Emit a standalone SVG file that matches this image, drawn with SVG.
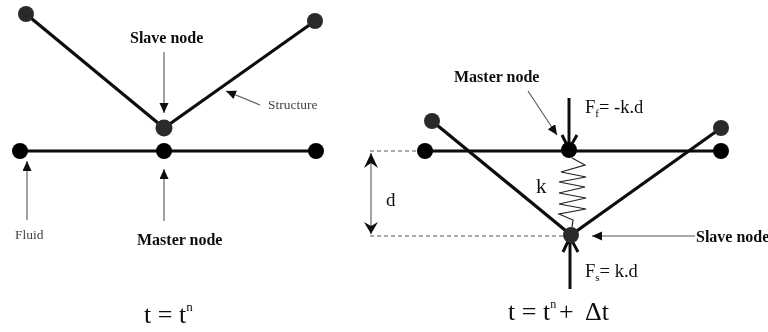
<svg xmlns="http://www.w3.org/2000/svg" width="768" height="332" viewBox="0 0 768 332">
<defs>
<filter id="soft" x="-5%" y="-5%" width="110%" height="110%"><feGaussianBlur stdDeviation="0.65"/></filter>
<marker id="head" markerUnits="userSpaceOnUse" markerWidth="12" markerHeight="12" refX="10" refY="4.5" orient="auto"><path d="M0 0L10 4.5L0 9Z" fill="#111"/></marker>
</defs>
<style>
.bar{stroke:#0c0c0c;stroke-width:3.2;fill:none}
.thin{stroke:#555;stroke-width:1.1;fill:none;marker-end:url(#head)}
.force{stroke:#111;stroke-width:3;fill:none}
.dash{stroke:#555;stroke-width:1.1;stroke-dasharray:4 3;fill:none}
.s{fill:#2b2b2b}.m{fill:#060606}
text{font-family:"Liberation Serif","Times New Roman",serif;fill:#111}
.b{font-weight:bold;font-size:16px}
.sm{font-size:13.5px;fill:#444}
.eq{font-size:26px}
.f{font-size:18.5px}
</style>
<rect width="768" height="332" fill="#fff"/>
<g filter="url(#soft)">
<g id="connectors">
<path class="bar" d="M26 14L164 128L315 21"/>
<path class="bar" d="M20 151H316"/>
<path class="thin" d="M164 52V113"/>
<path class="thin" d="M260 105L226 91"/>
<path class="thin" d="M27 220V161"/>
<path class="thin" d="M164 221V169"/>
<path class="bar" d="M432 121L571 235L721 128"/>
<path class="bar" d="M425 151H721"/>
<path class="thin" d="M528 91L557 135"/>
<path class="force" d="M569 98V150M562 135L569 149L577 135"/>
<path class="force" d="M570 289V236M563 252L570 237L578 252"/>
<path class="dash" d="M370 151H417"/>
<path class="dash" d="M370 236H563"/>
<path d="M371 153V234" stroke="#666" stroke-width="1.2" fill="none"/>
<path d="M371 153L364 168L371 163L378 168ZM371 234L364 222L371 226L378 222Z" fill="#111"/>
<path class="thin" d="M695 236H592"/>
<path d="M572 158L585 165L561 172L586 177L559 182L585 187L559 193L586 198L559 204L586 209L559 214L573 220L572 227" stroke="#222" stroke-width="1.2" fill="none"/>
</g>
<g id="left-top-a"><circle class="s" cx="26" cy="14" r="8"/></g>
<g id="left-top-b"><circle class="s" cx="315" cy="21" r="8"/></g>
<g id="left-slave"><circle class="s" cx="164" cy="128" r="8.5"/></g>
<g id="left-fluid-a"><circle class="m" cx="20" cy="151" r="8"/></g>
<g id="left-master"><circle class="m" cx="164" cy="151" r="8"/></g>
<g id="left-fluid-b"><circle class="m" cx="316" cy="151" r="8"/></g>
<g id="right-top-a"><circle class="s" cx="432" cy="121" r="8"/></g>
<g id="right-top-b"><circle class="s" cx="721" cy="128" r="8"/></g>
<g id="right-fluid-a"><circle class="m" cx="425" cy="151" r="8"/></g>
<g id="right-fluid-b"><circle class="m" cx="721" cy="151" r="8"/></g>
<g id="right-master"><circle class="m" cx="569" cy="150" r="8"/></g>
<g id="right-slave"><circle class="s" cx="571" cy="235" r="8"/></g>
<g id="labels">
<text class="b" x="130" y="43">Slave node</text>
<text class="sm" x="268" y="109">Structure</text>
<text class="sm" x="15" y="239">Fluid</text>
<text class="b" x="137" y="245">Master node</text>
<text class="eq" x="144" y="323">t = t<tspan font-size="13" dy="-12">n</tspan></text>
<text class="b" x="454" y="82">Master node</text>
<text class="f" x="585" y="113">F<tspan font-size="11" dy="4">f</tspan><tspan dy="-4">= -k.d</tspan></text>
<text x="536" y="193" font-size="21">k</text>
<text x="386" y="206" font-size="19">d</text>
<text class="b" x="696" y="242">Slave node</text>
<text class="f" x="585" y="277">F<tspan font-size="11" dy="4">s</tspan><tspan dy="-4">= k.d</tspan></text>
<text class="eq" x="508" y="320">t = t<tspan font-size="12" dy="-12">n</tspan></text>
<text class="eq" x="559" y="320">+</text>
<text class="eq" x="585" y="320">Δt</text>
</g>
</g>
</svg>
